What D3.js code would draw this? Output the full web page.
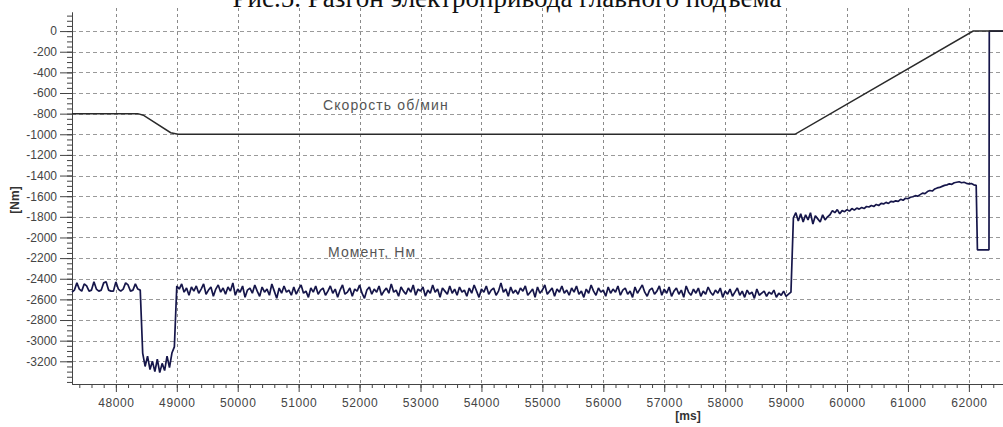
<!DOCTYPE html>
<html>
<head>
<meta charset="utf-8">
<script src="https://cdn.jsdelivr.net/npm/d3@7"></script>
<style>
  body { margin: 0; background: #fff; }
  svg { display: block; }
</style>
</head>
<body>
<script>
// speed reference curve (rpm)
var speedTimes = [47280, 48360, 48450, 48900, 49020, 59145, 62070, 62560];
var speedValues = [-800, -800, -815, -985, -1000, -1000, 0, 0];

// torque (Nm), sampled every 40 ms from 47280
var torqueStart = 47280, torqueStep = 40;
var torqueValues = [
  // 47280 .. 48400
  -2530,-2510,-2440,-2500,-2520,-2450,-2470,-2520,-2510,-2430,-2500,-2520,-2510,-2440,-2430,-2510,-2520,-2520,-2430,-2500,
  -2520,-2500,-2440,-2460,-2520,-2510,-2450,-2500,-2510,
  // 48440 .. 48960
  -3120,-3250,-3150,-3280,-3200,-3300,-3180,-3310,-3220,-3290,-3150,-3260,-3120,-3060,
  // 49000 .. 59080
  -2470,-2500,-2450,-2530,-2490,-2560,-2480,-2520,-2470,-2540,-2500,-2450,-2550,-2510,-2480,-2570,-2500,-2460,-2530,-2490,
  -2550,-2480,-2520,-2440,-2560,-2500,-2530,-2470,-2580,-2510,-2490,-2540,-2460,-2520,-2570,-2480,-2530,-2500,-2560,-2450,
  -2520,-2590,-2490,-2540,-2470,-2530,-2510,-2560,-2480,-2550,-2500,-2460,-2540,-2520,-2580,-2490,-2530,-2470,-2550,-2510,
  -2490,-2560,-2520,-2470,-2540,-2500,-2580,-2510,-2460,-2550,-2530,-2490,-2570,-2500,-2520,-2460,-2540,-2590,-2510,-2480,
  -2550,-2500,-2530,-2470,-2560,-2520,-2490,-2540,-2450,-2530,-2510,-2570,-2480,-2520,-2550,-2490,-2530,-2460,-2560,-2500,
  -2520,-2480,-2570,-2510,-2540,-2460,-2530,-2500,-2580,-2490,-2520,-2550,-2470,-2540,-2500,-2560,-2480,-2530,-2510,-2570,
  -2490,-2540,-2460,-2520,-2580,-2500,-2530,-2470,-2550,-2510,-2490,-2560,-2520,-2440,-2530,-2500,-2570,-2480,-2540,-2510,
  -2550,-2490,-2520,-2470,-2560,-2530,-2500,-2580,-2480,-2540,-2510,-2460,-2550,-2520,-2490,-2570,-2500,-2530,-2470,-2540,
  -2510,-2560,-2490,-2530,-2470,-2550,-2520,-2580,-2500,-2540,-2460,-2520,-2560,-2490,-2530,-2510,-2570,-2480,-2540,-2500,
  -2530,-2470,-2560,-2510,-2490,-2550,-2520,-2580,-2480,-2540,-2500,-2460,-2530,-2570,-2510,-2490,-2550,-2520,-2470,-2560,
  -2500,-2540,-2480,-2570,-2520,-2490,-2550,-2510,-2580,-2470,-2530,-2560,-2500,-2540,-2490,-2570,-2520,-2550,-2480,-2530,
  -2560,-2510,-2540,-2490,-2580,-2520,-2550,-2500,-2570,-2530,-2490,-2560,-2520,-2580,-2510,-2550,-2530,-2590,-2500,-2560,
  -2540,-2520,-2570,-2530,-2550,-2510,-2580,-2540,-2560,-2520,-2570,-2550,-2530,
  // 59120 .. 62120
  -1810,-1760,-1840,-1770,-1850,-1780,-1830,-1760,-1870,-1790,-1820,-1850,-1780,-1830,-1800,
  -1780,-1740,-1760,-1730,-1770,-1740,-1750,-1730,-1745,-1720,-1735,-1715,-1725,-1710,-1720,-1700,-1705,-1690,-1700,-1680,
  -1690,-1670,-1675,-1660,-1670,-1650,-1655,-1645,-1650,-1630,-1640,-1620,-1625,-1610,-1605,-1595,-1600,-1585,-1570,-1575,
  -1555,-1545,-1550,-1530,-1520,-1515,-1505,-1495,-1490,-1480,-1485,-1470,-1465,-1460,-1470,-1465,-1475,-1480,-1478,-1490,
  -1495
];
var torqueTailTimes = [62140, 62330, 62335, 62560];
var torqueTailValues = [-2120, -2120, 0, 0];

var xMajor = d3.range(48000, 62001, 1000);
var xMinor = d3.range(47400, 62560, 200);
var yMajor = d3.range(0, -3201, -200);
var yMinor = d3.range(150, -3401, -50);

var W = 1003, H = 427;
var plotL = 72, plotR = 1003, plotT = 12, plotB = 384;

var svg = d3.select("body").append("svg")
  .attr("width", W)
  .attr("height", H);

var x = d3.scaleLinear().domain([47280, 62560]).range([plotL, plotR]);
var y = d3.scaleLinear().domain([185, -3420]).range([plotT, plotB]);

// plain labels, ascii minus and no thousands separator
var plain = function(d) { return String(d); };

// grid
svg.append("g").selectAll("line")
  .data(yMajor)
  .enter().append("line")
  .attr("x1", plotL).attr("x2", plotR)
  .attr("y1", function(d) { return Math.round(y(d)) + 0.5; })
  .attr("y2", function(d) { return Math.round(y(d)) + 0.5; })
  .attr("stroke", "#9a9a9a")
  .attr("stroke-dasharray", "4,3");

svg.append("g").selectAll("line")
  .data(xMajor)
  .enter().append("line")
  .attr("x1", function(d) { return Math.round(x(d)) + 0.5; })
  .attr("x2", function(d) { return Math.round(x(d)) + 0.5; })
  .attr("y1", 8).attr("y2", plotB)
  .attr("stroke", "#8a8a8a")
  .attr("stroke-dasharray", "3,3");

// title, cut by the top edge
svg.append("text")
  .attr("x", 507)
  .attr("y", 7)
  .attr("text-anchor", "middle")
  .attr("font-family", "Liberation Serif, serif")
  .attr("font-size", 27)
  .attr("fill", "#111")
  .text("Рис.5. Разгон электропривода главного подъема");

// axes
function styleAxis(g) {
  g.select(".domain").attr("stroke", "#444");
  g.selectAll(".tick line").attr("stroke", "#444");
  g.selectAll(".tick text")
    .attr("fill", "#444")
    .attr("font-family", "Liberation Sans, Arial, sans-serif")
    .attr("font-size", 12);
}

svg.append("g")
  .attr("transform", "translate(" + plotL + ",0)")
  .call(d3.axisLeft(y).tickValues(yMinor).tickSize(5).tickFormat("").tickSizeOuter(0))
  .call(styleAxis);

svg.append("g")
  .attr("transform", "translate(" + plotL + ",0)")
  .call(d3.axisLeft(y).tickValues(yMajor).tickSize(12).tickPadding(3).tickFormat(plain).tickSizeOuter(0))
  .call(styleAxis);

svg.append("g")
  .attr("transform", "translate(0," + plotB + ")")
  .call(d3.axisBottom(x).tickValues(xMinor).tickSize(4).tickFormat("").tickSizeOuter(0))
  .call(styleAxis);

svg.append("g")
  .attr("transform", "translate(0," + plotB + ")")
  .call(d3.axisBottom(x).tickValues(xMajor).tickSize(8).tickPadding(6).tickFormat(plain).tickSizeOuter(0))
  .call(styleAxis)
  .selectAll(".tick text").attr("letter-spacing", 0.6);

// axis titles
svg.append("text")
  .attr("transform", "translate(19,200) rotate(-90)")
  .attr("text-anchor", "middle")
  .attr("font-family", "Liberation Sans, Arial, sans-serif")
  .attr("font-size", 12)
  .attr("font-weight", "bold")
  .attr("fill", "#333")
  .text("[Nm]");

svg.append("text")
  .attr("x", 688)
  .attr("y", 420)
  .attr("text-anchor", "middle")
  .attr("font-family", "Liberation Sans, Arial, sans-serif")
  .attr("font-size", 12)
  .attr("font-weight", "bold")
  .attr("fill", "#333")
  .text("[ms]");

// series
var line = d3.line()
  .x(function(d) { return x(d[0]); })
  .y(function(d) { return y(d[1]); });

var torque = torqueValues.map(function(v, i) { return [torqueStart + i * torqueStep, v]; })
  .concat(torqueTailTimes.map(function(t, i) { return [t, torqueTailValues[i]]; }));
var speed = speedTimes.map(function(t, i) { return [t, speedValues[i]]; });

svg.append("path")
  .datum(torque)
  .attr("d", line)
  .attr("fill", "none")
  .attr("stroke", "#16164a")
  .attr("stroke-width", 1.7)
  .attr("stroke-linejoin", "bevel");

svg.append("path")
  .datum(speed)
  .attr("d", line)
  .attr("fill", "none")
  .attr("stroke", "#2a2a2a")
  .attr("stroke-width", 1.5);

// labels on the curves
svg.append("text")
  .attr("x", 323).attr("y", 110)
  .attr("font-family", "Liberation Sans, Arial, sans-serif")
  .attr("font-size", 14)
  .attr("letter-spacing", 1.1)
  .attr("fill", "#555")
  .text("Скорость об/мин");

svg.append("text")
  .attr("x", 328).attr("y", 257)
  .attr("font-family", "Liberation Sans, Arial, sans-serif")
  .attr("font-size", 14)
  .attr("letter-spacing", 1.1)
  .attr("fill", "#555")
  .text("Момент, Нм");
</script>
</body>
</html>
